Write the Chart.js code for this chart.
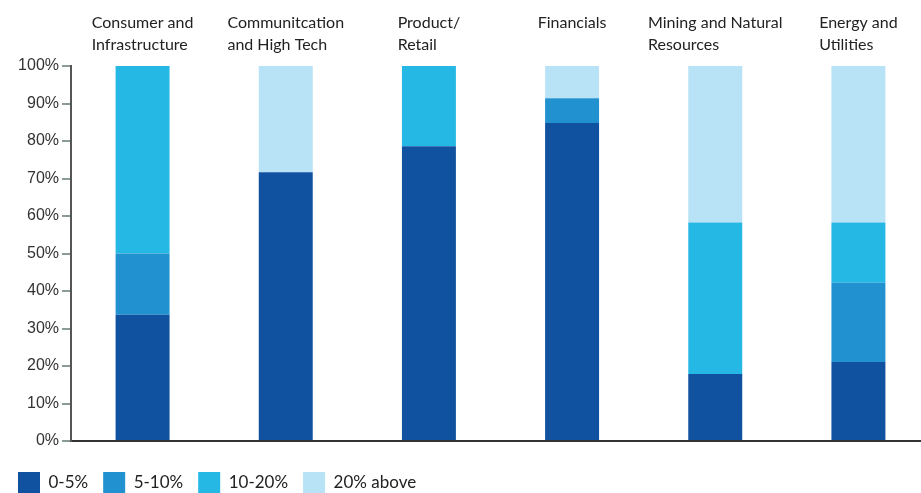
<!DOCTYPE html>
<html>
<head>
<meta charset="utf-8">
<script src="https://cdn.jsdelivr.net/npm/chart.js@4/dist/chart.umd.min.js"></script>
<style>
html,body{margin:0;padding:0;background:#fff;overflow:hidden;}
#wrap{width:921px;height:493px;position:relative;overflow:hidden;}
canvas{display:block;}
</style>
</head>
<body>
<div id="wrap"><canvas id="c" width="930" height="493"></canvas></div>
<script>
const categories = [
  ["Consumer and","Infrastructure"],
  ["Communitcation","and High Tech"],
  ["Product/","Retail"],
  ["Financials"],
  ["Mining and Natural","Resources"],
  ["Energy and","Utilities"]
];
const seriesNames = ["0-5%","5-10%","10-20%","20% above"];
const v0to5   = [33.7, 71.7, 78.6, 84.8, 17.9, 21.1];
const v5to10  = [16.3,  0,    0,    6.6,  0,   21.1];
const v10to20 = [50.0,  0,   21.4,  0,   40.4, 16.1];
const v20up   = [ 0,   28.3,  0,    8.6, 41.7, 41.7];
const yTicks  = [0,10,20,30,40,50,60,70,80,90,100];
const colors  = ["#1051a0","#2191d0","#26b8e4","#b8e2f5"];

const topLabels = {
  id:'topLabels',
  afterLayout(chart){
    const lg = chart.legend;
    if (lg) { const d = 472 - (lg.top + 15); lg.top += d; lg.bottom += d; }
  },
  afterDraw(chart){
    const ctx = chart.ctx, xs = chart.scales.x;
    ctx.save();
    ctx.font = '16px Lato, "Open Sans", sans-serif';
    ctx.fillStyle = '#222';
    ctx.textAlign = 'left';
    ctx.textBaseline = 'alphabetic';
    categories.forEach((lines,i)=>{
      const cx = xs.getPixelForValue(i);
      const w = Math.max(...lines.map(l=>ctx.measureText(l).width));
      const left = cx - w/2;
      lines.forEach((l,j)=>ctx.fillText(l,left,28+22*j));
    });
    ctx.restore();
  }
};

new Chart(document.getElementById('c'),{
  type:'bar',
  data:{
    labels: categories.map(c=>c.join(' ')),
    datasets:[v0to5,v5to10,v10to20,v20up].map((d,i)=>({
      label: seriesNames[i],
      data: d,
      backgroundColor: colors[i],
      borderWidth:0,
      barPercentage:0.377,
      categoryPercentage:1
    }))
  },
  options:{
    responsive:false,
    animation:false,
    devicePixelRatio:1,
    layout:{padding:{left:3,right:0,top:66,bottom:0}},
    plugins:{
      tooltip:{enabled:false},
      legend:{
        position:'bottom',
        align:'start',
        labels:{
          boxWidth:22, boxHeight:22, padding:15,
          color:'#222',
          font:{family:'Lato, "Open Sans", sans-serif', size:17}
        }
      }
    },
    scales:{
      x:{
        stacked:true,
        grid:{display:false},
        border:{display:true,color:'#333',width:2},
        ticks:{display:false},
        afterFit(s){ s.height = 5; }
      },
      y:{
        stacked:true,
        min:0,max:100,
        afterBuildTicks(s){ s.ticks = yTicks.map(v=>({value:v})); },
        afterFit(s){ s.width = 68; },
        grid:{display:true,drawOnChartArea:false,drawTicks:true,tickLength:9,color:'#8a9a96',lineWidth:2},
        border:{display:true,color:'#555',width:2},
        ticks:{padding:3,color:'#333',font:{family:'"Liberation Sans", Arial, sans-serif',size:16},callback:v=>v+'%'}
      }
    }
  },
  plugins:[topLabels]
});
</script>
</body>
</html>
